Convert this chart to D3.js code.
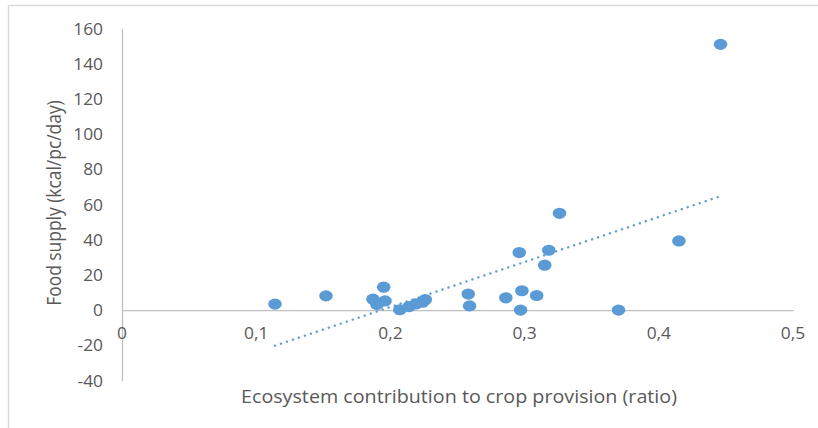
<!DOCTYPE html>
<html>
<head>
<meta charset="utf-8">
<script src="https://cdn.jsdelivr.net/npm/d3@7"></script>
<style>
  html, body { margin: 0; padding: 0; background: #fff; }
  svg { display: block; }
  text { font-family: "Open Sans", "Noto Sans", sans-serif; fill: #595959; }
</style>
</head>
<body>
<svg id="chart" width="818" height="428"></svg>
<script>
// Ecosystem contribution to crop provision (ratio)
const xValues = [0.114, 0.152, 0.187, 0.190, 0.195, 0.196, 0.207, 0.214, 0.219, 0.224, 0.226,
                 0.258, 0.259, 0.286, 0.296, 0.297, 0.298, 0.309, 0.315, 0.318, 0.326, 0.370, 0.415, 0.446];
// Food supply (kcal/pc/day)
const yValues = [3.4, 8.1, 6.2, 3.2, 13.0, 5.2, 0.2, 2.0, 3.5, 4.5, 6.0,
                 9.1, 2.4, 7.0, 32.7, 0, 11.0, 8.3, 25.5, 34.0, 55.0, 0, 39.3, 151];
const xTicks = [0, 0.1, 0.2, 0.3, 0.4, 0.5];
const yTicks = [-40, -20, 0, 20, 40, 60, 80, 100, 120, 140, 160];
const xTitle = "Ecosystem contribution to crop provision (ratio)";
const yTitle = "Food supply (kcal/pc/day)";

const svg = d3.select("#chart");
const color = "#5B9BD5";
const axisColor = "#bfbfbf";
const stretch = 1.12; // horizontal stretch of the original picture

// chart frame (partially visible)
svg.append("path")
  .attr("d", "M8.5,440 L8.5,5.5 L830,5.5")
  .attr("fill", "none").attr("stroke", "#d9d9d9").attr("stroke-width", 1.5);

const x = d3.scaleLinear().domain([0, 0.5]).range([122, 793]);
const y = d3.scaleLinear().domain([-40, 160]).range([380.5, 28.5]);

const fmt = d => String(d).replace(".", ",");

// axis lines via d3 axes (no tick marks)
const gy = svg.append("g").attr("transform", `translate(${x(0)},0)`)
  .call(d3.axisLeft(y).tickValues(yTicks).tickSize(0).tickFormat(""));
gy.select(".domain").attr("stroke", axisColor).attr("stroke-width", 1.3);
const gx = svg.append("g").attr("transform", `translate(0,${y(0)})`)
  .call(d3.axisBottom(x).tickValues(xTicks).tickSize(0).tickFormat(""));
gx.select(".domain").attr("stroke", axisColor).attr("stroke-width", 1.3);

// tick labels
svg.append("g").selectAll("text").data(yTicks).join("text")
  .attr("transform", d => `translate(103,${y(d)}) scale(${stretch},1)`)
  .attr("text-anchor", "end").attr("dominant-baseline", "central")
  .style("font-size", "15.5px").text(d => d);
svg.append("g").selectAll("text").data(xTicks).join("text")
  .attr("transform", d => `translate(${x(d)},${y(0) + 23}) scale(${stretch},1)`)
  .attr("text-anchor", "middle").attr("dominant-baseline", "central")
  .style("font-size", "15.5px").text(fmt);

// trendline: least squares fit of the data
const n = xValues.length;
const mx = d3.mean(xValues), my = d3.mean(yValues);
let sxy = 0, sxx = 0;
for (let i = 0; i < n; i++) { sxy += (xValues[i]-mx)*(yValues[i]-my); sxx += (xValues[i]-mx)**2; }
const slope = sxy / sxx, intercept = my - slope * mx;
const [x0, x1] = d3.extent(xValues);
svg.append("line")
  .attr("x1", x(x0)).attr("y1", y(intercept + slope * x0))
  .attr("x2", x(x1)).attr("y2", y(intercept + slope * x1))
  .attr("stroke", color).attr("stroke-width", 2.4)
  .attr("stroke-linecap", "round").attr("stroke-dasharray", "0.01 6.3");

// points
svg.append("g").selectAll("ellipse")
  .data(xValues.map((v, i) => [v, yValues[i]]))
  .join("ellipse")
  .attr("cx", d => x(d[0])).attr("cy", d => y(d[1]))
  .attr("rx", 6.8).attr("ry", 5.6)
  .attr("fill", color);

// titles
svg.append("text").attr("transform", `translate(459,396) scale(${stretch},1)`).attr("text-anchor", "middle")
  .attr("dominant-baseline", "central").style("font-size", "17.6px").text(xTitle);
svg.append("text").attr("transform", `translate(53,203) scale(${stretch},1) rotate(-90)`).attr("text-anchor", "middle")
  .attr("dominant-baseline", "central").style("font-size", "17.4px").text(yTitle);
</script>
</body>
</html>
